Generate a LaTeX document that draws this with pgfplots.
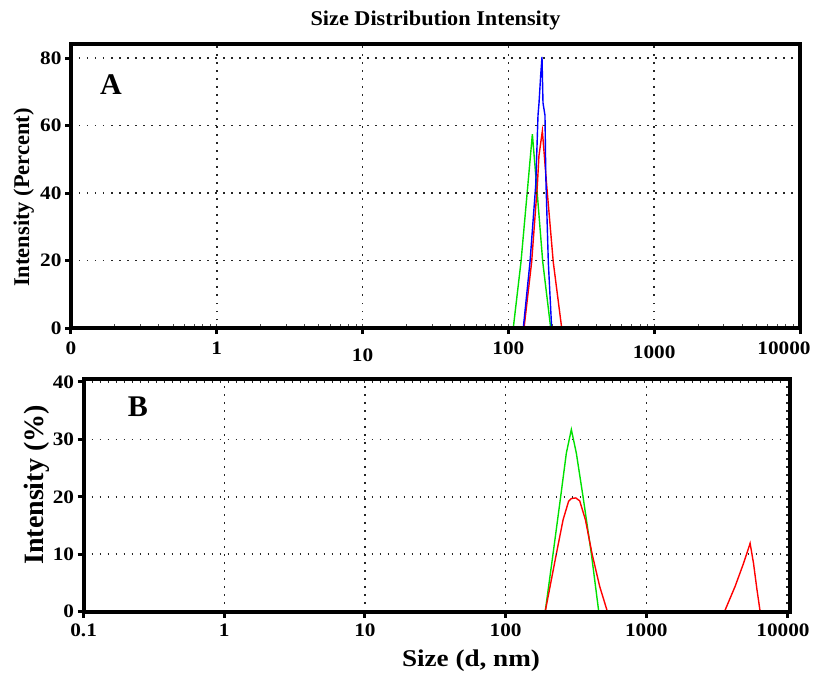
\documentclass[border=0pt]{standalone}
\usepackage{pgfplots}
\pgfplotsset{compat=1.18}
\usepackage{fontspec}
\setmainfont{Liberation Serif}
\usepackage{graphicx}
\newcommand{\sx}[1]{\scalebox{1.12}[1]{#1}}
\definecolor{lgreen}{RGB}{0,225,0}
\pgfplotsset{
  dlsaxis/.style={
    scale only axis,
    anchor=south west,
    axis line style={line width=4pt, black},
    axis on top,
    tick align=outside,
    tick pos=left,
    major tick length=6pt,
    tick style={black, line width=3pt},
    grid=major,
    major grid style={draw=black!85, line width=1.5pt, dash pattern=on 1.5pt off 6.5pt},
    ticklabel style={font=\fontsize{19}{21}\selectfont\bfseries},
    /pgf/number format/assume math mode=true,
  }
}
\begin{document}
\begin{tikzpicture}[x=1pt,y=1pt]
\path[use as bounding box] (0,0) rectangle (813,673);
% Panel A
\begin{semilogxaxis}[dlsaxis,
  at={(71pt,345pt)}, width=729pt, height=284pt,
  xmin=0.1, xmax=10000, ymin=0, ymax=84.15,
  xtick={0.1,1,10,100,1000,10000},
  xticklabels={\sx{0},\sx{1},\raisebox{-7pt}[\height][\depth]{\sx{10}},\sx{100},\raisebox{-4pt}[\height][\depth]{\sx{1000}},{\sx{10000}\hspace{32pt}\mbox{}}},
  xticklabel style={yshift=-4pt},
  ytick={0,20,40,60,80},
  yticklabels={\sx{0},\sx{20},\sx{40},\sx{60},\sx{80}},
  minor tick length=-4pt,
  minor tick style={black!70, line width=0.8pt},
]
\addplot[lgreen, line width=1.4pt] coordinates {
 (34,0) (108,0) (122,19.6) (136,42.4) (146,57.4) (156,42.4) (172,19.6) (195,0) (10000,0)};
\addplot[red, line width=1.4pt] coordinates {
 (34,0) (128,0) (144.4,19.6) (158,42.4) (162,51) (171,58.4) (183,42.4) (203,19.6) (232,0) (10000,0)};
\addplot[blue, line width=1.4pt] coordinates {
 (34,0) (126.5,0) (140.7,19.6) (154,42.4) (159.6,63) (162.2,66.7) (166.6,75) (170,80.3) (172.7,66.7) (178.2,63) (180.5,45) (187.8,19.6) (198,0) (10000,0)};
\end{semilogxaxis}
% Panel B
\begin{semilogxaxis}[dlsaxis,
  at={(83.6pt,61.3pt)}, width=706.4pt, height=232.7pt,
  xmin=0.1, xmax=10500, ymin=0, ymax=40.5,
  xtick={0.1,1,10,100,1000,10000},
  xticklabels={\sx{0.1},\sx{1},\sx{10},\sx{100},\sx{1000},{\sx{10000}\hspace{8pt}\mbox{}}},
  xticklabel style={yshift=-3pt},
  ytick={0,10,20,30,40},
  yticklabels={\sx{0},\sx{10},\sx{20},\sx{30},\sx{40}},
  minor tick length=0pt,
]
\addplot[lgreen, line width=1.4pt] coordinates {
 (191,0) (217,10) (246,20) (270,27.6) (293,31.7) (318,27.6) (355,20) (407,10) (459,0)};
\addplot[red, line width=1.4pt] coordinates {
 (191,0) (229,10) (256,16) (280,19.2) (293,19.7) (315,19.8) (336,19.3) (369,16) (412,10) (466,4.4) (529,0)
 (3591,0) (4274,4.4) (4905,8.4) (5466,11.9) (5781,8.4) (6102,4) (6442,0)};
\end{semilogxaxis}
% texts
\node[anchor=base, font=\fontsize{21}{24}\selectfont\bfseries] at (435.5,647) {\scalebox{1.06}[1]{Size Distribution Intensity}};
\node[anchor=base, rotate=90, font=\fontsize{22.5}{26}\selectfont\bfseries] at (29,475.5) {Intensity (Percent)};
\node[anchor=base, rotate=90, font=\fontsize{28}{32}\selectfont\bfseries] at (43,188) {Intensity (\%)};
\node[anchor=base, font=\fontsize{24}{27}\selectfont\bfseries] at (471,6.5) {\scalebox{1.13}[1]{Size (d, nm)}};
\node[anchor=base, font=\fontsize{30}{34}\selectfont\bfseries] at (111,578) {A};
\node[anchor=base, font=\fontsize{30}{34}\selectfont\bfseries] at (138,257) {B};
\end{tikzpicture}
\end{document}
